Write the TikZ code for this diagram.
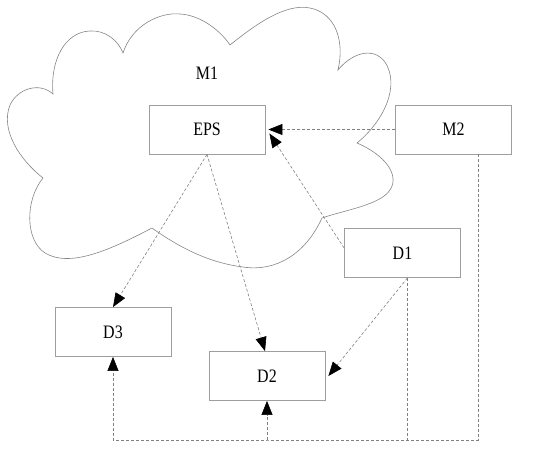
\documentclass[tikz,border=0pt]{standalone}
\usepackage{fontspec}
\setmainfont[FakeStretch=0.84]{Liberation Serif}
\usetikzlibrary{arrows.meta}
\tikzset{
  boxnode/.style={draw=black!38, line width=0.8pt, minimum width=116pt, minimum height=49pt, inner sep=0pt, font=\fontsize{19}{21}\selectfont},
  conn/.style={draw=black!50, line width=0.6pt, dash pattern=on 3pt off 2pt},
  tip/.style={-{Triangle[length=14pt,width=11pt,fill=black,color=black]}},
  cloudline/.style={draw=black!48, line width=0.6pt}
}
\begin{document}
\begin{tikzpicture}[x=1pt,y=-1pt]
\useasboundingbox (0,0) rectangle (550,452);
% cloud
\draw[cloudline] (152,228)
  .. controls (110,250) and (70,268) .. (45,253)
  .. controls (25,240) and (25,200) .. (43,178)
  .. controls (20,160) and (0,130) .. (10,105)
  .. controls (18,88) and (40,82) .. (53,94)
  .. controls (50,60) and (65,32) .. (90,31)
  .. controls (105,30) and (118,40) .. (123,53)
  .. controls (132,25) and (160,12) .. (180,14)
  .. controls (200,15) and (220,30) .. (230,45)
  .. controls (255,25) and (285,3) .. (310,8)
  .. controls (335,13) and (345,40) .. (338,70)
  .. controls (350,55) and (372,45) .. (385,62)
  .. controls (400,85) and (385,120) .. (357,143)
  .. controls (385,155) and (400,175) .. (390,190)
  .. controls (380,205) and (345,210) .. (322,218)
  .. controls (305,255) and (275,272) .. (243,267)
  .. controls (210,263) and (180,248) .. cycle;
\node[font=\fontsize{19}{21}\selectfont] (m1) at (207,73) {M1};
% boxes
\node[boxnode] (eps) at (207,129.5) {EPS};
\node[boxnode] (m2) at (453.5,129.5) {M2};
\node[boxnode] (d1) at (402.5,253) {D1};
\node[boxnode] (d3) at (113,332) {D3};
\node[boxnode] (d2) at (267,376) {D2};
\coordinate (base) at (267,440);
% connectors
\draw[conn,tip,shorten >=3pt] (m2.west) -- (eps.east);
\draw[conn,tip] ([yshift=5pt]d1.west) -- ([xshift=4pt,yshift=-4pt]eps.east);
\draw[conn,tip] (eps.south) -- (d3.north);
\draw[conn,tip] (eps.south) -- ([xshift=-2pt]d2.north);
\draw[conn,tip] ([xshift=5pt]d1.south) -- ([xshift=3pt]d2.east);
\draw[conn,tip] ([xshift=24.5pt]m2.south) |- (base) -| (d3.south);
\draw[conn,tip] (base) -- (d2.south);
\draw[conn] ([xshift=5pt]d1.south) -- ([xshift=5pt]d1.south |- base);
\end{tikzpicture}
\end{document}
